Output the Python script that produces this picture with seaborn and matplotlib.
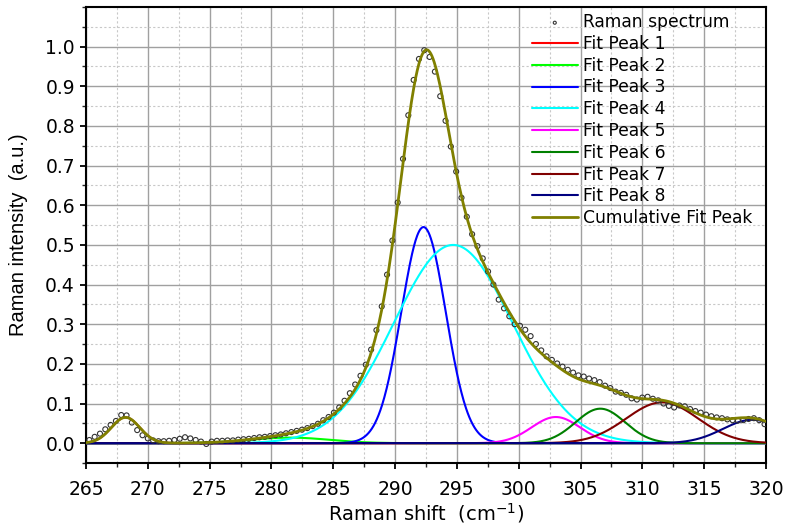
import numpy as np
import pandas as pd
import matplotlib
matplotlib.use("Agg")
import matplotlib.pyplot as plt
import seaborn as sns
from matplotlib.ticker import MultipleLocator, FixedLocator

# ---------------- data ----------------
spec_x_start = 265.27
spec_x_step = 0.43
spec_y = [
    0.008, 0.016, 0.024, 0.035, 0.046, 0.056, 0.071, 0.070, 0.052, 0.033,
    0.020, 0.012, 0.007, 0.005, 0.005, 0.006, 0.008, 0.011, 0.015, 0.012,
    0.008, 0.004, -0.002, 0.004, 0.006, 0.006, 0.007, 0.007, 0.009, 0.010,
    0.011, 0.013, 0.015, 0.016, 0.018, 0.020, 0.022, 0.025, 0.028, 0.031,
    0.034, 0.038, 0.043, 0.049, 0.058, 0.066, 0.077, 0.090, 0.107, 0.126,
    0.148, 0.170, 0.198, 0.236, 0.285, 0.345, 0.425, 0.511, 0.607, 0.717,
    0.827, 0.916, 0.969, 0.991, 0.974, 0.937, 0.875, 0.813, 0.748, 0.685,
    0.619, 0.571, 0.527, 0.497, 0.466, 0.433, 0.400, 0.362, 0.340, 0.320,
    0.300, 0.296, 0.286, 0.270, 0.250, 0.234, 0.219, 0.210, 0.201, 0.193,
    0.185, 0.178, 0.171, 0.168, 0.163, 0.159, 0.154, 0.145, 0.139, 0.130,
    0.127, 0.122, 0.113, 0.110, 0.115, 0.117, 0.112, 0.108, 0.100, 0.094,
    0.090, 0.095, 0.093, 0.086, 0.081, 0.077, 0.072, 0.068, 0.065, 0.063,
    0.060, 0.058, 0.057, 0.058, 0.061, 0.063, 0.058, 0.048,
]
spec_x = spec_x_start + spec_x_step * np.arange(len(spec_y))

peak_labels = ["Fit Peak 1", "Fit Peak 2", "Fit Peak 3", "Fit Peak 4",
               "Fit Peak 5", "Fit Peak 6", "Fit Peak 7", "Fit Peak 8"]
peak_centers = [268.2, 281.5, 292.3, 294.7, 303.0, 306.6, 311.6, 318.9]
peak_heights = [0.065, 0.014, 0.545, 0.500, 0.066, 0.087, 0.103, 0.059]
peak_sigmas = [1.15, 3.2, 1.8, 4.8, 1.95, 2.0, 2.9, 2.4]
peak_colors = ["#ff0000", "#00ff00", "#0000ff", "#00ffff",
               "#ff00ff", "#008000", "#800000", "#000080"]
cum_color = "#808000"

x_ticks = [265, 270, 275, 280, 285, 290, 295, 300, 305, 310, 315, 320]
y_ticks = [0.0, 0.1, 0.2, 0.3, 0.4, 0.5, 0.6, 0.7, 0.8, 0.9, 1.0]

# ---------------- figure ----------------
sns.set_style("ticks")
plt.rcParams["font.family"] = ["DejaVu Sans"]
plt.rcParams["text.color"] = "black"
plt.rcParams["axes.labelcolor"] = "black"

fig = plt.figure(figsize=(7.88, 5.24), dpi=100)
ax = fig.add_axes([86 / 788, 61 / 524, 680 / 788, 456 / 524])

xf = np.linspace(265, 320, 1200)
curves = []
for lab, c, h, s, col in zip(peak_labels, peak_centers, peak_heights, peak_sigmas, peak_colors):
    yv = h * np.exp(-(xf - c) ** 2 / (2 * s ** 2))
    curves.append(yv)
    sns.lineplot(x=xf, y=yv, ax=ax, color=col, lw=1.5, label=lab, zorder=3)
cum = np.sum(curves, axis=0)

sns.scatterplot(x=spec_x, y=spec_y, ax=ax, s=13, marker="o",
                facecolor="none", edgecolor="#333333", linewidth=0.8,
                label="Raman spectrum", zorder=4)
sns.lineplot(x=xf, y=cum, ax=ax, color=cum_color, lw=2.0,
             label="Cumulative Fit Peak", zorder=5)

ax.set_xlim(265, 320)
ax.set_ylim(-0.05, 1.1)
ax.xaxis.set_major_locator(FixedLocator(x_ticks))
ax.xaxis.set_minor_locator(MultipleLocator(2.5))
ax.yaxis.set_major_locator(FixedLocator(y_ticks))
ax.yaxis.set_minor_locator(MultipleLocator(0.05))
ax.set_xticklabels([str(t) for t in x_ticks])
ax.set_yticklabels([f"{t:.1f}" for t in y_ticks])

ax.grid(which="major", color="#a0a0a0", lw=1.0, ls="-", zorder=0)
ax.grid(which="minor", color="#c8c8c8", lw=0.8, ls=(0, (2, 2)), zorder=0)
ax.set_axisbelow(True)

for sp in ax.spines.values():
    sp.set_linewidth(1.5)
    sp.set_color("black")
ax.tick_params(which="major", direction="out", width=1.3,
               labelsize=13.5, colors="black")
ax.tick_params(axis="x", which="major", length=4.5, pad=7.5)
ax.tick_params(axis="y", which="major", length=4.5, pad=3.5)
ax.tick_params(which="minor", direction="out", length=3, width=1.0)

ax.set_xlabel("Raman shift  (cm$^{-1}$)", fontsize=14)
ax.xaxis.set_label_coords(0.5, -0.083)
ax.set_ylabel("Raman intensity  (a.u.)", fontsize=14.5,
              family=["Liberation Sans", "DejaVu Sans"])
ax.yaxis.set_label_coords(-0.085, 0.5)

hs, ls = ax.get_legend_handles_labels()
order = ["Raman spectrum"] + peak_labels + ["Cumulative Fit Peak"]
hmap = dict(zip(ls, hs))
leg = ax.legend([hmap[o] for o in order], order, loc="upper left",
                bbox_to_anchor=(530 / 788, 1 - 11.5 / 524),
                bbox_transform=fig.transFigure, frameon=False,
                fontsize=12.3, handlelength=2.7, handletextpad=0.3,
                labelspacing=0.22, borderpad=0.1, borderaxespad=0,
                markerscale=0.6)
for t in leg.get_texts():
    t.set_color("black")

fig.savefig("out.png", dpi=100)
